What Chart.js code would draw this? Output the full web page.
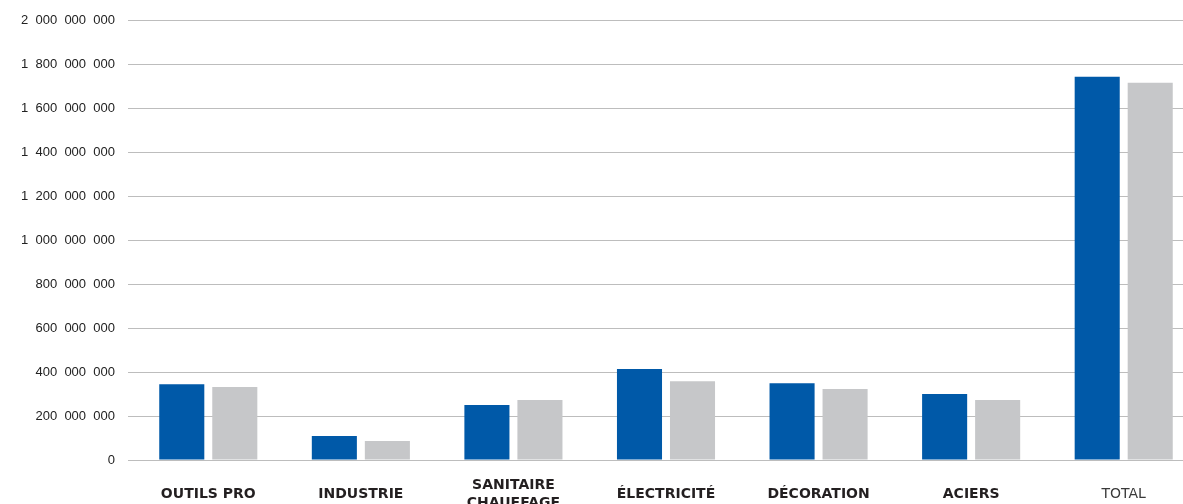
<!DOCTYPE html>
<html>
<head>
<meta charset="utf-8">
<script src="https://cdn.jsdelivr.net/npm/chart.js@4/dist/chart.umd.min.js"></script>
<style>
    html, body { margin: 0; padding: 0; background: #fff; overflow: hidden; }
    #wrap { position: relative; width: 1200px; height: 504px; }
</style>
</head>
<body>
<div id="wrap"><canvas id="salesChart"></canvas></div>
<script>
// Values
const categories = ['OUTILS PRO', 'INDUSTRIE', ['SANITAIRE', 'CHAUFFAGE'], 'ÉLECTRICITÉ', 'DÉCORATION', 'ACIERS', 'TOTAL'];
const seriesBlue = [345000000, 109000000, 250000000, 414000000, 350000000, 300000000, 1745000000];
const seriesGrey = [332000000, 86000000, 273000000, 359000000, 323000000, 273000000, 1718000000];
const yTicks = [0, 200000000, 400000000, 600000000, 800000000, 1000000000, 1200000000, 1400000000, 1600000000, 1800000000, 2000000000];

// French style thousands grouping with spaces
function fmt(v) {
    return String(v).replace(/\B(?=(\d{3})+(?!\d))/g, '\u2007');
}

new Chart(document.getElementById('salesChart'), {
    type: 'bar',
    data: {
        labels: categories,
        datasets: [
            { label: 'N', data: seriesBlue, backgroundColor: '#0059A8' },
            { label: 'N-1', data: seriesGrey, backgroundColor: '#C6C7C9' }
        ]
    },
    options: {
        responsive: true,
        maintainAspectRatio: false,
        animation: false,
        categoryPercentage: 0.695,
        barPercentage: 0.85,
        layout: { padding: { top: 20, right: 0, bottom: 0, left: 0 } },
        plugins: { legend: { display: false }, tooltip: { enabled: false } },
        scales: {
            x: {
                afterFit: scale => { scale.height = 44; }, // labels run past the bottom edge like the original
                grid: { display: false, drawTicks: false },
                border: { display: false },
                ticks: {
                    padding: 25,
                    maxRotation: 0,
                    autoSkip: false,
                    crossAlign: 'center',
                    color: ctx => ctx.index === 6 ? '#3a3a3a' : '#231f20',
                    font: ctx => ({
                        family: '"DejaVu Sans", sans-serif',
                        size: 14,
                        weight: ctx.index === 6 ? 'normal' : 'bold',
                        lineHeight: '18px'
                    })
                }
            },
            y: {
                min: 0,
                max: 2000000000,
                afterFit: scale => { scale.width = 132; },
                afterBuildTicks: scale => { scale.ticks = yTicks.map(v => ({ value: v })); },
                border: { display: false },
                grid: { color: '#bdbdbd', lineWidth: 1, tickLength: 4, tickColor: '#bdbdbd' },
                ticks: {
                    padding: 13,
                    color: '#222',
                    font: { family: '"Liberation Sans", Arial, sans-serif', size: 13 },
                    callback: v => fmt(v)
                }
            }
        }
    }
});
</script>
</body>
</html>
